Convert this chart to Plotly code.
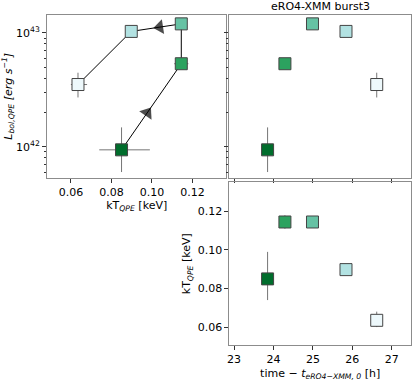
import numpy as np
import plotly.graph_objects as go

# QPE burst 3 of eRO4 observed with XMM
time_h = [23.85, 24.29, 24.99, 25.84, 26.62]
kT = [0.085, 0.1145, 0.1145, 0.0898, 0.0635]
kT_lo = [0.011, 0.0035, 0.002, 0.002, 0.0035]
kT_hi = [0.014, 0.0035, 0.002, 0.002, 0.0045]
L_bol = [9.4e41, 5.36e42, 1.2e43, 1.03e43, 3.52e42]
L_lo = [3.4e41, 2.0e41, 3.0e41, 2.0e41, 8.1e41]
L_hi = [5.4e41, 2.0e41, 3.0e41, 2.0e41, 9.5e41]
colors = ["#006d2c", "#2ca25f", "#66c2a4", "#b2e2e2", "#edf8fb"]

log_ticks = [1e42, 1e43]
log_ticktext = ["10<sup>42</sup>", "10<sup>43</sup>"]
kT_ticks = [0.06, 0.08, 0.10, 0.12]
time_ticks = [23, 24, 25, 26, 27]
arrow_segments = [(0, 1), (2, 3)]

FONT = "DejaVu Sans"
SPINE = "#8c8c8c"
ERR = "rgba(60,60,60,0.7)"

fig = go.Figure()

# hysteresis path in the kT - L plane
fig.add_trace(go.Scatter(x=kT, y=L_bol, mode="lines", line=dict(color="black", width=1),
                         xaxis="x", yaxis="y", showlegend=False, hoverinfo="skip"))
for a, b in arrow_segments:
    f = 0.43
    xa = kT[a] + f * (kT[b] - kT[a])
    ya = 10 ** (np.log10(L_bol[a]) + f * (np.log10(L_bol[b]) - np.log10(L_bol[a])))
    fig.add_trace(go.Scatter(x=[kT[a], xa], y=[L_bol[a], ya], mode="markers",
                             marker=dict(symbol="triangle-up", size=[0, 13], color="black",
                                         angleref="previous", line=dict(width=0)),
                             xaxis="x", yaxis="y", showlegend=False, hoverinfo="skip"))

def square_markers():
    return dict(symbol="square", size=12, color=colors, line=dict(color="#444", width=1))

def err(lo, hi):
    return dict(type="data", symmetric=False, array=hi, arrayminus=lo, color=ERR,
                thickness=1, width=0)

fig.add_trace(go.Scatter(x=kT, y=L_bol, mode="markers", marker=square_markers(),
                         error_x=err(kT_lo, kT_hi), error_y=err(L_lo, L_hi),
                         xaxis="x", yaxis="y", showlegend=False))
fig.add_trace(go.Scatter(x=time_h, y=L_bol, mode="markers", marker=square_markers(),
                         error_y=err(L_lo, L_hi),
                         xaxis="x2", yaxis="y2", showlegend=False))
fig.add_trace(go.Scatter(x=time_h, y=kT, mode="markers", marker=square_markers(),
                         error_y=err(kT_lo, kT_hi),
                         xaxis="x3", yaxis="y3", showlegend=False))

minor_log = [k * 10.0 ** e for e in (41, 42, 43) for k in range(2, 10)]

base = dict(showline=True, mirror=True, linecolor=SPINE, linewidth=1, ticks="outside",
            ticklen=4, tickcolor="#333", showgrid=False, zeroline=False,
            tickfont=dict(family=FONT, size=11, color="black"))
log_y = dict(base, type="log", range=[41.73, 43.157], tickvals=log_ticks, ticktext=log_ticktext,
             minor=dict(tickmode="array", tickvals=minor_log, ticks="outside", ticklen=2,
                        tickcolor="#333"))
time_x = dict(base, range=[22.88, 27.49], tickvals=time_ticks)

fig.update_layout(
    width=415, height=381, margin=dict(l=47, r=3, t=15, b=33),
    plot_bgcolor="white", paper_bgcolor="white",
    font=dict(family=FONT, size=11, color="black"),
    xaxis=dict(base, domain=[0, 0.493], range=[0.0482, 0.1368], tickvals=kT_ticks,
               tickformat=".2f", anchor="y",
               title=dict(text="kT<sub><i>QPE</i></sub> [keV]", standoff=2,
                          font=dict(family=FONT, size=11))),
    yaxis=dict(log_y, domain=[0.5075, 1], anchor="x",
               title=dict(text="<i>L<sub>bol,QPE</sub> [erg s<sup>−1</sup>]</i>", standoff=4,
                          font=dict(family=FONT, size=11))),
    xaxis2=dict(time_x, domain=[0.501, 1], anchor="y2", showticklabels=False),
    yaxis2=dict(log_y, domain=[0.5075, 1], anchor="x2", showticklabels=False),
    xaxis3=dict(time_x, domain=[0.501, 1], anchor="y3",
                title=dict(text="time − <i>t<sub>eRO4−XMM, 0</sub></i> [h]", standoff=4,
                           font=dict(family=FONT, size=11))),
    yaxis3=dict(base, domain=[0, 0.4925], anchor="x3", range=[0.0507, 0.135],
                tickvals=kT_ticks, tickformat=".2f",
                title=dict(text="kT<sub><i>QPE</i></sub> [keV]", standoff=4,
                           font=dict(family=FONT, size=11))),
    annotations=[dict(text="eRO4-XMM burst3", xref="x2 domain", yref="y2 domain",
                      x=0.5, y=1, xanchor="center", yanchor="bottom", yshift=0,
                      showarrow=False, font=dict(family=FONT, size=11))],
)

# the page body has a default margin; drop it so the figure sits at the top-left corner
fig.write_html("out.html", config={"displayModeBar": False},
               post_script="document.body.style.margin = '0';")
